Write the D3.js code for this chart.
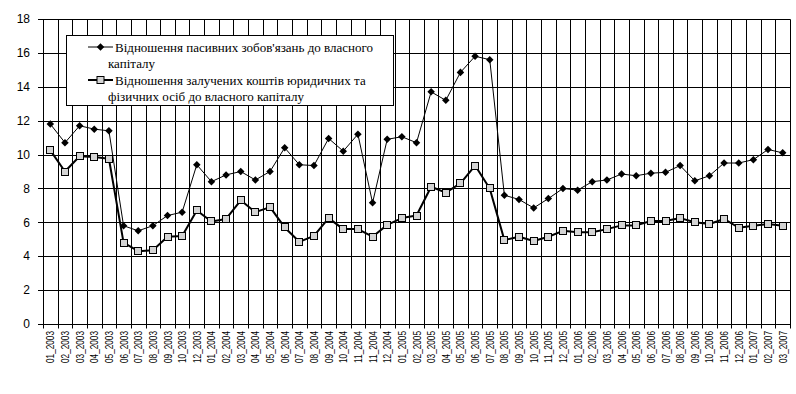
<!DOCTYPE html>
<html>
<head>
    <meta charset="utf-8">
    <script src="https://d3js.org/d3.v7.min.js"></script>
    <style>
        body { margin: 0; background: #fff; }
        svg { display: block; }
        .tick-lbl { font-family: "Liberation Sans", Arial, sans-serif; font-size: 11px; fill: #000; }
        .legend text { font-family: "Liberation Serif", "DejaVu Serif", serif; font-size: 13px; fill: #000; }
    </style>
</head>
<body>
    <svg id="chart" width="796" height="394"></svg>

    <script>
        // month labels as printed on the axis (note 11_2003 missing, 11_2004 twice)
        const months = [
            "01_2003", "02_2003", "03_2003", "04_2003", "05_2003", "06_2003", "07_2003", "08_2003", "09_2003", "10_2003", "12_2003",
            "01_2004", "02_2004", "03_2004", "04_2004", "05_2004", "06_2004", "07_2004", "08_2004", "09_2004", "10_2004", "11_2004", "11_2004", "12_2004",
            "01_2005", "02_2005", "03_2005", "04_2005", "05_2005", "06_2005", "07_2005", "08_2005", "09_2005", "10_2005", "11_2005", "12_2005",
            "01_2006", "02_2006", "03_2006", "04_2006", "05_2006", "06_2006", "07_2006", "08_2006", "09_2006", "10_2006", "11_2006", "12_2006",
            "01_2007", "02_2007", "03_2007"
        ];

        const passive = [
            11.8, 10.7, 11.7, 11.5, 11.4, 5.8, 5.5, 5.8, 6.4, 6.6, 9.4,
            8.4, 8.8, 9.0, 8.5, 9.0, 10.4, 9.4, 9.35, 10.95, 10.2, 11.2, 7.15, 10.9,
            11.05, 10.7, 13.7, 13.2, 14.85, 15.8, 15.6, 7.6, 7.35, 6.85, 7.4, 8.0,
            7.9, 8.4, 8.5, 8.85, 8.75, 8.9, 8.95, 9.35, 8.45, 8.75, 9.5, 9.5,
            9.7, 10.3, 10.1
        ];

        const attracted = [
            10.25, 9.0, 9.9, 9.85, 9.75, 4.8, 4.3, 4.35, 5.15, 5.2, 6.7,
            6.05, 6.2, 7.3, 6.6, 6.9, 5.7, 4.85, 5.2, 6.25, 5.6, 5.6, 5.15, 5.85,
            6.25, 6.4, 8.1, 7.75, 8.3, 9.35, 8.0, 4.95, 5.15, 4.9, 5.15, 5.5,
            5.42, 5.42, 5.6, 5.82, 5.82, 6.08, 6.08, 6.25, 6.0, 5.9, 6.2, 5.68,
            5.8, 5.9, 5.8
        ];

        const yTicks = [0, 2, 4, 6, 8, 10, 12, 14, 16, 18];

        const legendLines = [
            ["Відношення пасивних зобов'язань до власного", "капіталу"],
            ["Відношення залучених коштів юридичних та", "фізичних осіб до власного капіталу"]
        ];

        const svg = d3.select("#chart");
        const plotL = 43, plotR = 790, plotT = 19, plotB = 324;

        const x = d3.scaleBand()
            .domain(d3.range(months.length))
            .range([plotL, plotR])
            .padding(0);

        const y = d3.scaleLinear()
            .domain([0, 18])
            .range([plotB, plotT]);

        const cx = i => x(i) + x.bandwidth() / 2;
        const snap = v => Math.round(v) + 0.5;

        // grid
        const grid = svg.append("g").attr("stroke", "#000").attr("stroke-width", 1);

        const bounds = d3.range(months.length).map(i => x(i)).concat([plotR]);
        grid.selectAll(".vg")
            .data(bounds)
            .join("line")
            .attr("x1", d => snap(d)).attr("x2", d => snap(d))
            .attr("y1", snap(y(18))).attr("y2", snap(y(0)) + 4);

        grid.selectAll(".hg")
            .data(yTicks)
            .join("line")
            .attr("x1", plotL - 5).attr("x2", snap(plotR))
            .attr("y1", d => snap(y(d))).attr("y2", d => snap(y(d)));

        // y labels
        svg.append("g")
            .selectAll("text")
            .data(yTicks)
            .join("text")
            .attr("class", "tick-lbl")
            .attr("x", 30)
            .attr("y", d => y(d))
            .attr("dy", "0.35em")
            .attr("text-anchor", "end")
            .style("font-size", "12px")
            .text(d => d);

        // x labels, rotated
        svg.append("g")
            .selectAll("text")
            .data(months)
            .join("text")
            .attr("class", "tick-lbl")
            .attr("transform", (d, i) => `translate(${cx(i)},${plotB + 7}) rotate(-90)`)
            .attr("text-anchor", "end")
            .attr("dominant-baseline", "central")
            .attr("textLength", 32)
            .attr("lengthAdjust", "spacingAndGlyphs")
            .text(d => d);

        // series
        const line = d3.line()
            .x((d, i) => cx(i))
            .y(d => y(d));

        svg.append("path")
            .datum(passive)
            .attr("fill", "none")
            .attr("stroke", "#000")
            .attr("stroke-width", 1)
            .attr("d", line);

        svg.append("path")
            .datum(attracted)
            .attr("fill", "none")
            .attr("stroke", "#000")
            .attr("stroke-width", 2)
            .attr("stroke-linejoin", "round")
            .attr("d", line);

        const diamond = d3.symbol().type(d3.symbolDiamond2).size(36);

        svg.append("g")
            .selectAll("path")
            .data(passive)
            .join("path")
            .attr("transform", (d, i) => `translate(${cx(i)},${y(d)})`)
            .attr("d", diamond)
            .attr("fill", "#000");

        svg.append("g")
            .selectAll("rect")
            .data(attracted)
            .join("rect")
            .attr("x", (d, i) => Math.round(cx(i)) - 3.5)
            .attr("y", d => Math.round(y(d)) - 3.5)
            .attr("width", 7)
            .attr("height", 7)
            .attr("fill", "#d4d4d4")
            .attr("stroke", "#000")
            .attr("stroke-width", 1);

        // legend
        const lg = svg.append("g").attr("class", "legend");
        lg.append("rect")
            .attr("x", 66.5).attr("y", 35.5)
            .attr("width", 327).attr("height", 70)
            .attr("fill", "#fff").attr("stroke", "#000");

        const rows = [
            { y: 47, w: 1, mark: "diamond" },
            { y: 80, w: 2, mark: "square" }
        ];
        rows.forEach((r, k) => {
            lg.append("line")
                .attr("x1", 88).attr("x2", 113)
                .attr("y1", r.y).attr("y2", r.y)
                .attr("stroke", "#000").attr("stroke-width", r.w);
            if (r.mark === "diamond") {
                lg.append("path")
                    .attr("transform", `translate(100.5,${r.y})`)
                    .attr("d", diamond)
                    .attr("fill", "#000");
            } else {
                lg.append("rect")
                    .attr("x", 97).attr("y", r.y - 3.5)
                    .attr("width", 7).attr("height", 7)
                    .attr("fill", "#d4d4d4").attr("stroke", "#000");
            }
            lg.append("text")
                .attr("x", 115).attr("y", r.y + 4.5)
                .text(legendLines[k][0]);
            lg.append("text")
                .attr("x", 108).attr("y", r.y + 21)
                .text(legendLines[k][1]);
        });
    </script>
</body>
</html>
